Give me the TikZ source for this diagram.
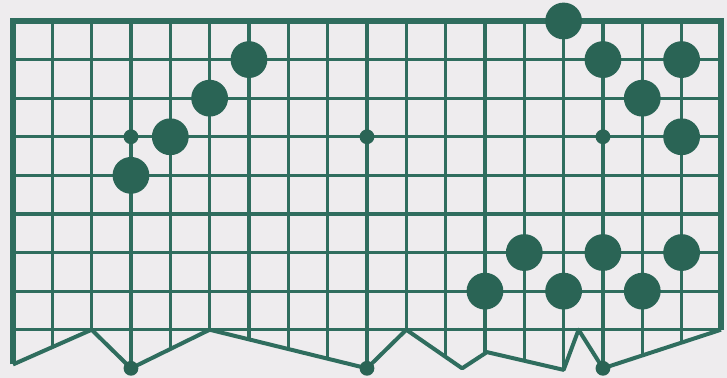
\documentclass[tikz,border=0pt]{standalone}
\usepackage{xcolor}
\usepackage{tikz}
\usetikzlibrary{calc}
\definecolor{goLine}{HTML}{2F6D5E}
\definecolor{goStone}{HTML}{2A6455}
\definecolor{goPaper}{HTML}{EEECEE}

\tikzset{
  gridline/.style={draw=goLine, line width=1.6pt},
  rimline/.style={draw=goLine, line width=3pt, line join=miter},
  tornline/.style={draw=goLine, line width=2pt, line join=round},
  stone/.style={fill=goStone},
}

\begin{document}
\begin{tikzpicture}[x=19.67pt, y=-19.3pt]
  \fill[goPaper] (-0.33,-0.544) rectangle (18.154,9.249);
  \useasboundingbox (-0.33,-0.544) rectangle (18.154,9.249);
  % torn lower edge of the board
  \def\tornedge{(0,8.9) -- (2,8) -- (3,9) -- (5,8) -- (9,9) -- (10,8) -- (11.42,9) -- (12.05,8.58) -- (14,9.04) -- (14.38,8) -- (15,9) -- (18,8)}
  \begin{scope}
    \clip (0,0) -- \tornedge -- (18,0) -- cycle;
    \foreach \c in {1,...,17} \draw[gridline] (\c,0) -- (\c,9.5);
    \foreach \r in {1,...,8} \draw[gridline] (0,\r) -- (18,\r);
  \end{scope}
  \draw[tornline] \tornedge;
  \draw[rimline] (0,8.9) -- (0,0) -- (18,0) -- (18,8);
  % star points and the dots on the torn edge
  \foreach \c/\r in {3/3, 9/3, 15/3, 3/9, 9/9, 15/9}
    \fill[stone] (\c,\r) circle[radius=3.7pt];
  % stones
  \foreach \c/\r in {6/1, 5/2, 4/3, 3/4, 14/0, 15/1, 17/1, 16/2, 17/3,
                     13/6, 15/6, 17/6, 12/7, 14/7, 16/7}
    \fill[stone] (\c,\r) circle[radius=9.2pt];
\end{tikzpicture}
\end{document}
